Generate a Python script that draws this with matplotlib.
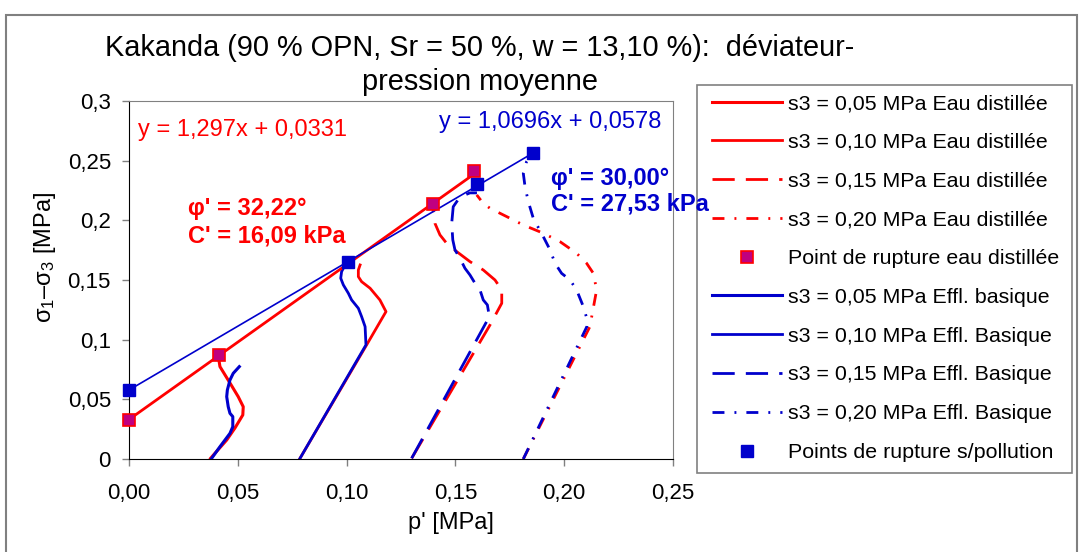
import numpy as np
import matplotlib
matplotlib.use("Agg")
import matplotlib.pyplot as plt
from matplotlib.patches import Rectangle
from matplotlib.ticker import FuncFormatter, MultipleLocator

plt.rcParams["font.family"] = ["Liberation Sans", "DejaVu Sans"]
plt.rcParams["mathtext.fontset"] = "custom"
plt.rcParams["mathtext.rm"] = "Liberation Sans"
plt.rcParams["mathtext.it"] = "Liberation Sans:italic"

RED  = "#FF0000"
BLUE = "#0000CC"
GRIS = "#808080"

# ─── Chemins de contrainte p'-q : eau distillée ───────────────────────────────
ED05_P = [0.0375, 0.0395, 0.0449, 0.0487, 0.0523, 0.0525, 0.0502, 0.0464, 0.0418, 0.0410]
ED05_Q = [0.0006, 0.0048, 0.0159, 0.0260, 0.0369, 0.0438, 0.0522, 0.0637, 0.0774, 0.0866]

ED10_P = [0.0786, 0.1092, 0.1181, 0.1153, 0.1108, 0.1069, 0.1054, 0.1054, 0.1062]
ED10_Q = [0.0006, 0.0956, 0.1235, 0.1333, 0.1431, 0.1486, 0.1528, 0.1584, 0.1626]

ED15_P = [0.1299, 0.1659, 0.1713, 0.1713, 0.1682, 0.1628, 0.1567, 0.1506, 0.1460,
          0.1429, 0.1406, 0.1398, 0.1397]
ED15_Q = [0.0006, 0.1123, 0.1305, 0.1417, 0.1500, 0.1584, 0.1654, 0.1738, 0.1807,
          0.1878, 0.1975, 0.2073, 0.2129]

ED20_P = [0.1812, 0.2118, 0.2149, 0.2134, 0.2103, 0.2057, 0.1981, 0.1904, 0.1812,
          0.1736, 0.1659, 0.1628, 0.1598]
ED20_Q = [0.0000, 0.1109, 0.1417, 0.1556, 0.1640, 0.1724, 0.1821, 0.1892, 0.1961,
          0.2031, 0.2101, 0.2142, 0.2213]

# ─── Chemins de contrainte p'-q : effluent basique ────────────────────────────
EB05_P = [0.0380, 0.0418, 0.0464, 0.0477, 0.0477, 0.0464, 0.0456, 0.0449, 0.0452,
          0.0464, 0.0479, 0.0507]
EB05_Q = [0.0006, 0.0103, 0.0215, 0.0271, 0.0355, 0.0383, 0.0438, 0.0522, 0.0578,
          0.0662, 0.0718, 0.0774]

EB10_P = [0.0786, 0.1089, 0.1085, 0.1069, 0.1054, 0.1023, 0.1008, 0.0985, 0.0973,
          0.0977, 0.0993, 0.1011]
EB10_Q = [0.0006, 0.0956, 0.1109, 0.1193, 0.1263, 0.1333, 0.1389, 0.1459, 0.1515,
          0.1570, 0.1626, 0.1668]

EB15_P = [0.1299, 0.1656, 0.1647, 0.1628, 0.1613, 0.1590, 0.1567, 0.1544, 0.1521,
          0.1498, 0.1488, 0.1483, 0.1490, 0.1521, 0.1567, 0.1599]
EB15_Q = [0.0006, 0.1193, 0.1291, 0.1333, 0.1417, 0.1473, 0.1542, 0.1598, 0.1682,
          0.1752, 0.1836, 0.1975, 0.2114, 0.2196, 0.2230, 0.2230]

EB20_P = [0.1812, 0.2104, 0.2106, 0.2088, 0.2057, 0.2027, 0.1988, 0.1958, 0.1935,
          0.1904, 0.1858, 0.1835, 0.1820, 0.1812, 0.1827, 0.1858]
EB20_Q = [0.0000, 0.1109, 0.1165, 0.1277, 0.1417, 0.1500, 0.1556, 0.1640, 0.1752,
          0.1863, 0.2017, 0.2157, 0.2282, 0.2395, 0.2492, 0.2562]

# ─── Points de rupture + droites de régression ────────────────────────────────
RUPT_ED_P = [0.0, 0.0414, 0.1397, 0.1585]
RUPT_ED_Q = [0.0331, 0.0870, 0.2137, 0.2410]
RUPT_EB_P = [0.0, 0.1006, 0.1600, 0.1858]
RUPT_EB_Q = [0.0578, 0.1655, 0.2305, 0.2562]

FIT_ED = (1.297, 0.0331)
FIT_EB = (1.0696, 0.0578)

LABELS_ED = ["s3 = 0,05 MPa Eau distillée", "s3 = 0,10 MPa Eau distillée",
             "s3 = 0,15 MPa Eau distillée", "s3 = 0,20 MPa Eau distillée"]
LABELS_EB = ["s3 = 0,05 MPa Effl. basique", "s3 = 0,10 MPa Effl. Basique",
             "s3 = 0,15 MPa Effl. Basique", "s3 = 0,20 MPa Effl. Basique"]

W, H = 1082, 552
fig = plt.figure(figsize=(W / 100, H / 100), dpi=100)
ax = fig.add_axes([129 / W, 1 - 459 / H, 544 / W, 358 / H])
ax.set_zorder(3)
ax.patch.set_alpha(0)

DASH    = (8, 4)
DASHDOT = (4.3, 3.6, 0.7, 3.6)

def trace(p, q, color, style, lw, label):
    ln, = ax.plot(p, q, color=color, lw=lw, label=label,
                  solid_joinstyle="round", dash_capstyle="butt")
    if style is not None:
        ln.set_dashes(style)
    return ln

h_ed = [trace(ED05_P, ED05_Q, RED, None, 2.2, LABELS_ED[0]),
        trace(ED10_P, ED10_Q, RED, None, 2.0, LABELS_ED[1]),
        trace(ED15_P, ED15_Q, RED, DASH, 2.0, LABELS_ED[2]),
        trace(ED20_P, ED20_Q, RED, DASHDOT, 2.0, LABELS_ED[3])]
h_eb = [trace(EB05_P, EB05_Q, BLUE, None, 2.2, LABELS_EB[0]),
        trace(EB10_P, EB10_Q, BLUE, None, 2.0, LABELS_EB[1]),
        trace(EB15_P, EB15_Q, BLUE, DASH, 2.0, LABELS_EB[2]),
        trace(EB20_P, EB20_Q, BLUE, DASHDOT, 2.0, LABELS_EB[3])]

# droites de Mohr-Coulomb (p'-q)
x_ed = np.array([0.0, max(RUPT_ED_P)])
x_eb = np.array([0.0, max(RUPT_EB_P)])
ax.plot(x_ed, FIT_ED[0] * x_ed + FIT_ED[1], color=RED, lw=2.0, zorder=3)
ax.plot(x_eb, FIT_EB[0] * x_eb + FIT_EB[1], color=BLUE, lw=1.2, zorder=3)

p_ed, = ax.plot(RUPT_ED_P, RUPT_ED_Q, ls="none", marker="s", ms=8.5,
                mfc="#C00080", mec=RED, mew=1.2, zorder=4, clip_on=False,
                label="Point de rupture eau distillée")
p_eb, = ax.plot(RUPT_EB_P, RUPT_EB_Q, ls="none", marker="s", ms=8.5,
                mfc=BLUE, mec=BLUE, zorder=5, clip_on=False,
                label="Points de rupture s/pollution")

ax.set_xlim(0, 0.25)
ax.set_ylim(0, 0.3)
ax.xaxis.set_major_locator(MultipleLocator(0.05))
ax.yaxis.set_major_locator(MultipleLocator(0.05))
ax.xaxis.set_major_formatter(FuncFormatter(lambda v, _: f"{v:.2f}".replace(".", ",")))
ax.yaxis.set_major_formatter(
    FuncFormatter(lambda v, _: "0" if abs(v) < 1e-9 else f"{v:g}".replace(".", ",")))
ax.tick_params(direction="out", length=5, width=1, color=GRIS, labelsize=16)
ax.tick_params(axis="x", pad=12)
ax.tick_params(axis="y", pad=8)
for s in ("top", "right"):
    ax.spines[s].set_color(GRIS)
for s in ("left", "bottom"):
    ax.spines[s].set_color("black")

# équations + paramètres de cisaillement
ax.text(0.004, 0.276, "y = 1,297x + 0,0331", color=RED, fontsize=17, va="center")
ax.text(0.027, 0.210, "φ' = 32,22°", color=RED, fontsize=17, fontweight="bold", va="center")
ax.text(0.027, 0.187, "C' = 16,09 kPa", color=RED, fontsize=17, fontweight="bold", va="center")
ax.text(0.1425, 0.282, "y = 1,0696x + 0,0578", color=BLUE, fontsize=17, va="center")
ax.text(0.194, 0.235, "φ' = 30,00°", color=BLUE, fontsize=17, fontweight="bold",
        va="center", zorder=10)
ax.text(0.194, 0.214, "C' = 27,53 kPa", color=BLUE, fontsize=17, fontweight="bold",
        va="center", clip_on=False, zorder=10)

fig.text(480 / W, 1 - 65 / H, "Kakanda (90 % OPN, Sr = 50 %, w = 13,10 %):  déviateur-\npression moyenne",
         ha="center", va="center", fontsize=20.8, linespacing=1.24)
fig.text(451 / W, 1 - 523 / H, "p' [MPa]", ha="center", va="center", fontsize=17)
fig.text(45 / W, 1 - 257 / H, r"$\mathregular{\sigma_1}$–$\mathregular{\sigma_3}$ [MPa]",
         ha="center", va="center", rotation=90, fontsize=17)

# cadre de légende tracé à part, entrées posées dedans
fig.patches.append(Rectangle((697 / W, 1 - 473 / H), 375 / W, 388 / H, transform=fig.transFigure,
                             facecolor="white", edgecolor=GRIS, lw=1.2, zorder=1))
leg = fig.legend(handles=h_ed + [p_ed] + h_eb + [p_eb], loc="upper left",
                 bbox_to_anchor=(712 / W, 1 - 94 / H), bbox_transform=fig.transFigure,
                 fontsize=15.4, frameon=False, borderaxespad=0, borderpad=0,
                 handlelength=3.27, handletextpad=0.28, labelspacing=0.925,
                 numpoints=1)
leg.set_zorder(2)

fig.patches.append(Rectangle((6 / W, -0.02), 1071 / W, 1.02 - 15 / H, transform=fig.transFigure,
                             fill=False, edgecolor=GRIS, lw=1.5))

fig.savefig("out.png", dpi=100)
